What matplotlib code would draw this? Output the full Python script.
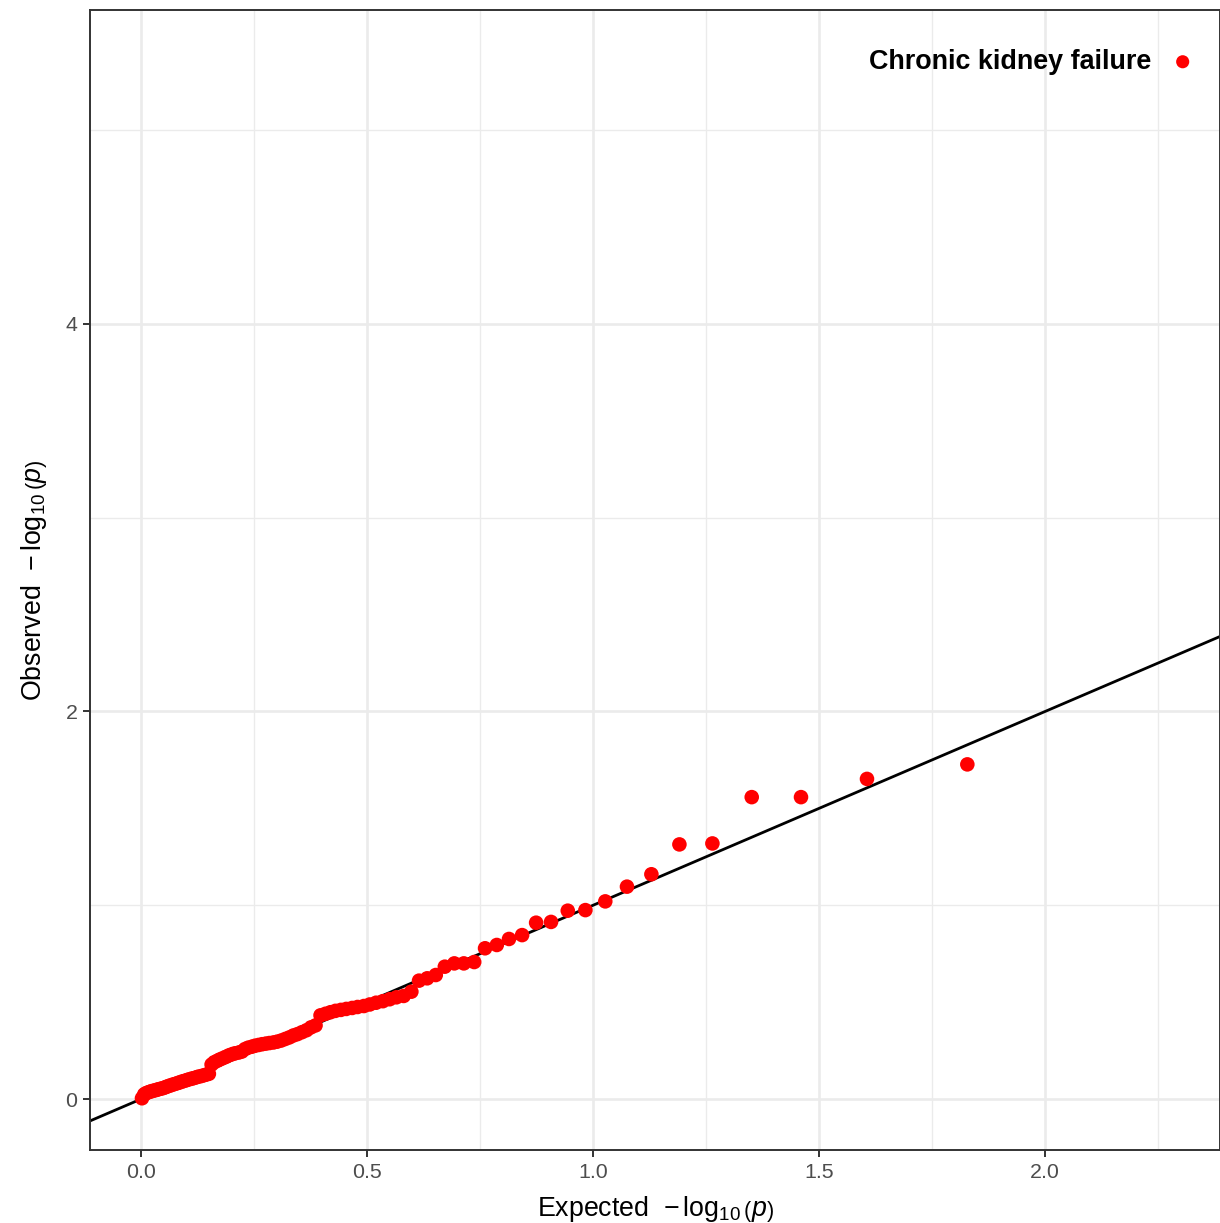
import matplotlib.pyplot as plt
from matplotlib.ticker import MultipleLocator

plt.rcParams['font.family'] = ['Liberation Sans', 'DejaVu Sans']
plt.rcParams['mathtext.fontset'] = 'custom'
plt.rcParams['mathtext.rm'] = 'Liberation Sans'
plt.rcParams['mathtext.it'] = 'Liberation Sans:italic'
plt.rcParams['mathtext.bf'] = 'Liberation Sans:bold'

# QQ-plot values (sorted, largest first)
expected = [1.828, 1.606, 1.460, 1.351, 1.264, 1.191, 1.129, 1.075, 1.027, 0.983,
            0.944, 0.907, 0.874, 0.843, 0.814, 0.787, 0.761, 0.737, 0.714, 0.693,
            0.672, 0.652, 0.633, 0.615, 0.598, 0.581, 0.565, 0.550, 0.535, 0.520,
            0.506, 0.493, 0.479, 0.467, 0.454, 0.442, 0.430, 0.419, 0.408, 0.397,
            0.386, 0.376, 0.366, 0.356, 0.346, 0.337, 0.328, 0.319, 0.310, 0.301,
            0.293, 0.284, 0.276, 0.268, 0.260, 0.252, 0.245, 0.237, 0.230, 0.223,
            0.216, 0.208, 0.202, 0.195, 0.188, 0.182, 0.175, 0.169, 0.162, 0.156,
            0.150, 0.144, 0.138, 0.132, 0.126, 0.121, 0.115, 0.110, 0.104, 0.099,
            0.093, 0.088, 0.083, 0.078, 0.072, 0.067, 0.062, 0.057, 0.053, 0.048,
            0.043, 0.038, 0.034, 0.029, 0.024, 0.020, 0.015, 0.011, 0.007, 0.002]
observed = [1.727, 1.652, 1.558, 1.558, 1.319, 1.314, 1.160, 1.096, 1.020, 0.975,
            0.972, 0.914, 0.910, 0.846, 0.826, 0.795, 0.778, 0.707, 0.700, 0.700,
            0.683, 0.640, 0.623, 0.611, 0.554, 0.532, 0.525, 0.515, 0.505, 0.497,
            0.488, 0.480, 0.475, 0.470, 0.465, 0.460, 0.455, 0.448, 0.440, 0.432,
            0.380, 0.370, 0.355, 0.345, 0.335, 0.328, 0.318, 0.310, 0.302, 0.296,
            0.292, 0.289, 0.286, 0.283, 0.279, 0.275, 0.270, 0.265, 0.258, 0.245,
            0.240, 0.236, 0.232, 0.226, 0.218, 0.212, 0.205, 0.198, 0.190, 0.178,
            0.130, 0.126, 0.122, 0.118, 0.115, 0.111, 0.107, 0.104, 0.100, 0.096,
            0.092, 0.088, 0.084, 0.080, 0.076, 0.072, 0.068, 0.064, 0.060, 0.056,
            0.053, 0.050, 0.047, 0.044, 0.041, 0.038, 0.034, 0.030, 0.024, 0.004]
label = 'Chronic kidney failure'

fig = plt.figure(figsize=(12.2, 12.23), dpi=100)
ax = fig.add_axes([90 / 1220, 73 / 1223, 1130 / 1220, 1140 / 1223])

ax.set_xlim(-0.113, 2.387)
ax.set_ylim(-0.263, 5.62)
ax.xaxis.set_major_locator(MultipleLocator(0.5))
ax.xaxis.set_minor_locator(MultipleLocator(0.25))
ax.yaxis.set_major_locator(MultipleLocator(2))
ax.yaxis.set_minor_locator(MultipleLocator(1))
ax.xaxis.set_major_formatter(lambda v, p: f'{v:.1f}')
ax.yaxis.set_major_formatter(lambda v, p: f'{v:.0f}')

ax.grid(which='major', color='#EBEBEB', lw=1.9)
ax.grid(which='minor', color='#EBEBEB', lw=0.95)
ax.set_axisbelow(True)
for s in ax.spines.values():
    s.set_color('#333333')
    s.set_linewidth(1.4)

ax.tick_params(which='major', length=5, width=1.4, color='#333333',
               labelsize=15.4, labelcolor='#4D4D4D', pad=4)
ax.tick_params(which='minor', length=0)

ax.axline((0, 0), slope=1, color='black', lw=2.0, zorder=2)
ax.scatter(expected, observed, s=110, color='#FF0000', edgecolors='none',
           label=label, zorder=3, clip_on=False)

ax.set_xlabel(r'Expected  $-\,\log_{10}\left(p\right)$', fontsize=19.25, labelpad=9)
ax.set_ylabel(r'Observed  $-\,\log_{10}\left(p\right)$', fontsize=19.25, labelpad=12)

leg = ax.legend(loc='upper right', bbox_to_anchor=(0.9956, 0.9754),
                markerfirst=False, frameon=False,
                prop={'weight': 'bold', 'size': 19.4}, handletextpad=0.35,
                borderaxespad=0, markerscale=0.9, handlelength=1.6)

fig.savefig('out.png', dpi=100)
